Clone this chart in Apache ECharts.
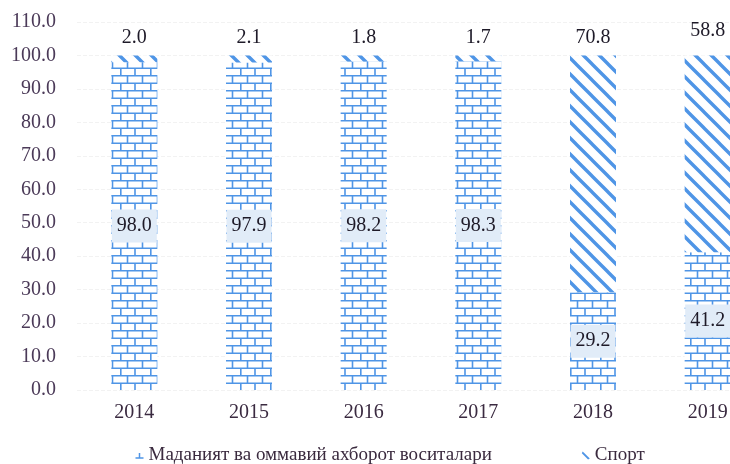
<!DOCTYPE html>
<html><head><meta charset="utf-8">
<script src="https://cdn.jsdelivr.net/npm/echarts@6/dist/echarts.min.js"></script>
<style>html,body{margin:0;padding:0;background:#fff}#c{width:730px;height:464px}</style>
</head><body><div id="c"></div>
<script>
const categories = ['2014','2015','2016','2017','2018','2019'];
const cultureValues = [98.0, 97.9, 98.2, 98.3, 29.2, 41.2];
const sportValues = [2.0, 2.1, 1.8, 1.7, 70.8, 58.8];
const seriesNames = ['Маданият ва оммавий ахборот воситалари', 'Спорт'];

const FONT = '"Liberation Serif", "DejaVu Serif", serif';
const BLUE = '#4f95e6';

function brickPattern(){
  const c = document.createElement('canvas');
  c.width = 30; c.height = 15;
  const g = c.getContext('2d');
  g.fillStyle = '#fff'; g.fillRect(0,0,30,15);
  g.strokeStyle = BLUE; g.lineWidth = 1.6;
  g.beginPath();
  g.moveTo(0,0.8); g.lineTo(30,0.8);
  g.moveTo(0,8.3); g.lineTo(30,8.3);
  g.moveTo(7.5,0.8); g.lineTo(7.5,8.3);
  g.moveTo(22.5,0.8); g.lineTo(22.5,8.3);
  g.moveTo(0.8,8.3); g.lineTo(0.8,15);
  g.moveTo(15,8.3); g.lineTo(15,15);
  g.stroke();
  return c;
}
function hatchPattern(){
  const s = 16;
  const c = document.createElement('canvas');
  c.width = s; c.height = s;
  const g = c.getContext('2d');
  g.fillStyle = '#fff'; g.fillRect(0,0,s,s);
  g.strokeStyle = BLUE; g.lineWidth = 3.4; g.lineCap = 'square';
  g.beginPath();
  g.moveTo(-2,-2); g.lineTo(s+2,s+2);
  g.moveTo(-2,s-2); g.lineTo(2,s+2);
  g.moveTo(s-2,-2); g.lineTo(s+2,2);
  g.stroke();
  return c;
}

const chart = echarts.init(document.getElementById('c'), null, {renderer:'canvas'});
chart.setOption({
  animation: false,
  backgroundColor: '#fff',
  grid: { left: 77, width: 688, top: 22, bottom: 74, containLabel: false, outerBoundsMode: 'none' },
  legend: {
    top: 441, left: 128,
    itemGap: 90, itemWidth: 8, itemHeight: 8,
    textStyle: { fontFamily: FONT, fontSize: 19, color: '#3a2a3e' },
    data: [
      { name: seriesNames[0], icon: 'path://M0,10 L10,10 M5,4 L5,10', itemStyle: { color: 'none', borderColor: BLUE, borderWidth: 1.5 } },
      { name: seriesNames[1], icon: 'path://M1,1 L9,9 L7,10 L0,3 Z', itemStyle: { color: BLUE } }
    ]
  },
  xAxis: {
    type: 'category', data: categories,
    axisLine: { show: false }, axisTick: { show: false },
    axisLabel: { fontFamily: FONT, fontSize: 20, color: '#3a2a40', margin: 13 }
  },
  yAxis: {
    type: 'value', min: 0, max: 110, interval: 10,
    axisLine: { show: false }, axisTick: { show: false },
    axisLabel: { fontFamily: FONT, fontSize: 20, color: '#4b3a58', margin: 21,
      formatter: v => v.toFixed(1) },
    splitLine: { lineStyle: { color: '#f2f2f2', type: 'dashed' } }
  },
  series: [
    {
      name: seriesNames[0], type: 'bar', stack: 'a', barWidth: 46,
      data: cultureValues,
      itemStyle: { color: { image: brickPattern(), repeat: 'repeat' } },
      label: { show: true, position: 'inside', fontFamily: FONT, fontSize: 20, color: '#1e1a28',
        backgroundColor: '#e1ecf8', padding: [7, 5, 6, 5], formatter: p => p.value.toFixed(1) }
    },
    {
      name: seriesNames[1], type: 'bar', stack: 'a', barWidth: 46,
      data: sportValues.map((v, i) => i === 5 ? { value: v, label: { offset: [0, -7] } } : v),
      itemStyle: { color: { image: hatchPattern(), repeat: 'repeat' } },
      label: { show: true, position: 'top', distance: 8, fontFamily: FONT, fontSize: 20, color: '#1e1a28',
        formatter: p => p.value.toFixed(1) }
    }
  ]
});
</script></body></html>
